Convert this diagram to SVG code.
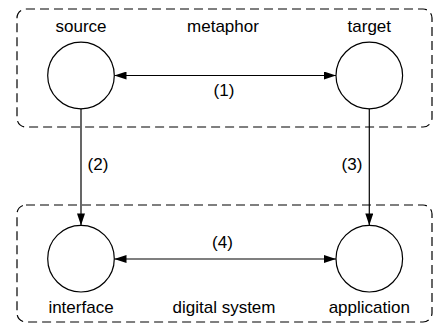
<svg xmlns="http://www.w3.org/2000/svg" width="434" height="324" viewBox="0 0 434 324">
<style>
.box{fill:none;stroke:#000;stroke-width:1.2;stroke-dasharray:9,5}
.node{fill:#fff;stroke:#000;stroke-width:1.2}
.edge{fill:none;stroke:#000;stroke-width:1.2}
text{font-family:"Liberation Sans",Arial,sans-serif;font-size:17px;fill:#000;text-anchor:middle}
</style>
<defs>
<marker id="ah" viewBox="0 0 12 8" refX="12" refY="4" markerWidth="12" markerHeight="8" markerUnits="userSpaceOnUse" orient="auto-start-reverse">
<path d="M0,0 L12,4 L0,8 Z" fill="#000"/>
</marker>
</defs>
<g id="metaphor-group">
<rect class="box" x="17" y="9" width="415" height="118" rx="9"/>
<text x="223" y="31.5">metaphor</text>
</g>
<g id="digital-group">
<rect class="box" x="17" y="205" width="415" height="117" rx="9"/>
<text x="224" y="312.5">digital system</text>
</g>
<g id="source">
<circle class="node" cx="81" cy="75.5" r="33.3"/>
<text x="81" y="31.5">source</text>
</g>
<g id="target">
<circle class="node" cx="369.3" cy="75.5" r="33.3"/>
<text x="369.3" y="31.5">target</text>
</g>
<g id="interface">
<circle class="node" cx="81" cy="258.7" r="33.3"/>
<text x="81" y="312.5">interface</text>
</g>
<g id="application">
<circle class="node" cx="369.3" cy="258.7" r="33.3"/>
<text x="369.3" y="312.5">application</text>
</g>
<g id="connectors">
<line class="edge" x1="114.5" y1="75.5" x2="336" y2="75.5" marker-start="url(#ah)" marker-end="url(#ah)"/>
<text x="224" y="96">(1)</text>
<line class="edge" x1="81" y1="108.8" x2="81" y2="225.4" marker-end="url(#ah)"/>
<text x="98" y="169.5">(2)</text>
<line class="edge" x1="369.3" y1="108.8" x2="369.3" y2="225.4" marker-end="url(#ah)"/>
<text x="352" y="169.5">(3)</text>
<line class="edge" x1="114.5" y1="259" x2="336" y2="259" marker-start="url(#ah)" marker-end="url(#ah)"/>
<text x="222.5" y="248">(4)</text>
</g>
</svg>
